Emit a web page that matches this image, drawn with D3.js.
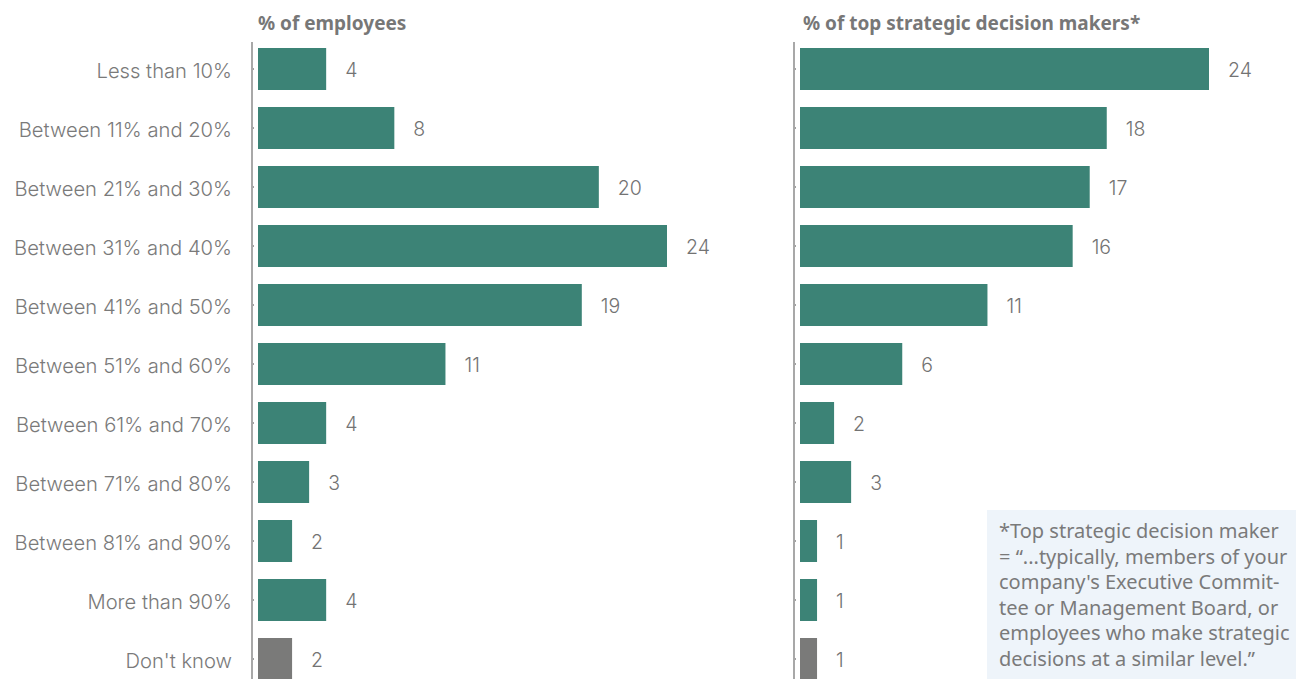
<!DOCTYPE html>
<html><head><meta charset="utf-8">
<script src="https://cdn.jsdelivr.net/npm/d3@7/dist/d3.min.js"></script>
<style>
html,body{margin:0;padding:0;background:#fff;}
svg{display:block;font-family:"Noto Sans",sans-serif;}
</style></head>
<body>
<svg id="c" width="1296" height="679"></svg>
<script>
const categories = ["Less than 10%","Between 11% and 20%","Between 21% and 30%","Between 31% and 40%","Between 41% and 50%","Between 51% and 60%","Between 61% and 70%","Between 71% and 80%","Between 81% and 90%","More than 90%","Don't know"];
const employees = [4,8,20,24,19,11,4,3,2,4,2];
const decisionMakers = [24,18,17,16,11,6,2,3,1,1,1];
const panelTitles = ["% of employees","% of top strategic decision makers*"];
const footnoteLines = ["*Top strategic decision maker","= \u201c...typically, members of your","company's Executive Commit-","tee or Management Board, or","employees who make strategic","decisions at a similar level.\u201d"];

const svg = d3.select("#c");
const teal = "#3c8376", gray = "#7a7a79";
const labelFont = "Inter, 'Noto Sans', sans-serif";

const y = d3.scaleBand().domain(categories).range([39.5, 688.5])
  .paddingInner(17/59).paddingOuter(0.5*17/59);

function panel(values, x0, title, titleDx, showLabels){
  const x = d3.scaleLinear().domain([0,24]).range([x0, x0+409]);
  const axisX = x0 - 6;
  const g = svg.append("g");
  g.append("line").attr("x1",axisX).attr("x2",axisX).attr("y1",42).attr("y2",679)
    .attr("stroke","#a8a8a8").attr("stroke-width",2);
  const ax = g.append("g").attr("transform",`translate(${axisX+1},0)`)
    .call(d3.axisLeft(y).tickSizeInner(-1).tickSizeOuter(0).tickPadding(21));
  ax.select(".domain").remove();
  ax.selectAll(".tick line").attr("stroke","#444");
  ax.selectAll(".tick text").attr("fill","#7a7a7a").style("font-size","20.2px")
    .attr("dy","0.43em")
    .style("font-family",labelFont).style("font-weight","300")
    .style("display", showLabels ? null : "none");
  g.selectAll("rect.bar").data(values).join("rect").attr("class","bar")
    .attr("x",x(0)).attr("y",(d,i)=>y(categories[i]))
    .attr("width",d=>x(d)-x(0)).attr("height",y.bandwidth())
    .attr("fill",(d,i)=>i===categories.length-1?gray:teal);
  g.selectAll("text.val").data(values).join("text").attr("class","val")
    .attr("x",d=>x(d)+19).attr("y",(d,i)=>y(categories[i])+y.bandwidth()/2)
    .attr("dy","0.43em").attr("fill","#737373").style("font-size","19.5px")
    .style("font-family",labelFont).style("font-weight","300")
    .text(d=>d);
  g.append("text").attr("x",x0+titleDx).attr("y",30).attr("fill","#777")
    .style("font-size","19px").style("font-weight","bold").text(title);
}
panel(employees, 258, panelTitles[0], 0, true);
panel(decisionMakers, 800, panelTitles[1], 3, false);

const fn = svg.append("g");
fn.append("rect").attr("x",987).attr("y",510).attr("width",309).attr("height",169).attr("fill","#eef4fa");
fn.selectAll("text").data(footnoteLines).join("text")
  .attr("x",999).attr("y",(d,i)=>538+i*25.5).attr("fill","#7a7a7a")
  .style("font-size","20px").text(d=>d);
</script>
</body></html>
